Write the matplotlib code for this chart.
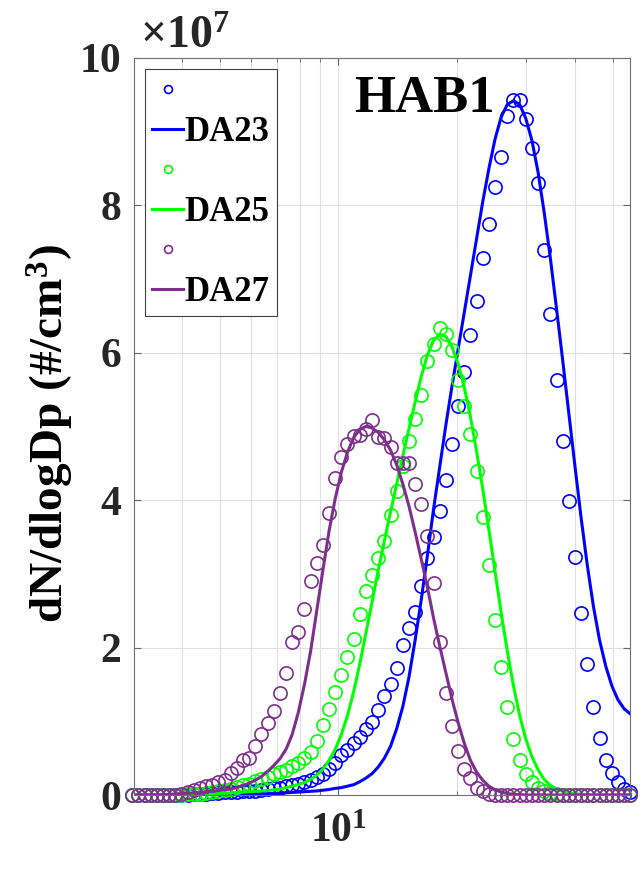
import numpy as np
import matplotlib
matplotlib.use("Agg")
import matplotlib.pyplot as plt
from matplotlib.ticker import FixedLocator, FixedFormatter, NullFormatter

plt.rcParams['font.family'] = ['Liberation Serif', 'DejaVu Serif']
plt.rcParams['font.weight'] = 'bold'
plt.rcParams['mathtext.fontset'] = 'custom'
plt.rcParams['mathtext.rm'] = 'Liberation Serif:bold'
plt.rcParams['mathtext.bf'] = 'Liberation Serif:bold'
plt.rcParams['mathtext.default'] = 'bf'

# SMPS size bins (nm), 64 channels per decade
dp = np.logspace(np.log10(2.99), np.log10(55.3), 82)

# dN/dlogDp in units of 1e7 #/cm3 (measured = circles, fit = lines)
da23_meas = [0, 0, 0, 0, 0, 0, 0, 0, 0, 0,
             0.01, 0.015, 0.02, 0.025, 0.03, 0.035, 0.04, 0.045, 0.05, 0.055,
             0.06, 0.07, 0.08, 0.09, 0.10, 0.12, 0.13, 0.15, 0.18, 0.21,
             0.25, 0.29, 0.35, 0.44, 0.54, 0.61, 0.70, 0.79, 0.89, 0.99,
             1.15, 1.34, 1.50, 1.72, 2.03, 2.27, 2.48, 2.83, 3.21, 3.50,
             3.85, 4.28, 4.76, 5.28, 5.74, 6.24, 6.70, 7.28, 7.75, 8.25,
             8.66, 9.21, 9.43, 9.43, 9.17, 8.78, 8.30, 7.39, 6.53, 5.63,
             4.81, 3.99, 3.23, 2.47, 1.78, 1.19, 0.78, 0.47, 0.30, 0.17,
             0.08, 0.04]
da23_fit = [0, 0, 0, 0, 0, 0, 0, 0, 0, 0,
            0, 0, 0.001, 0.002, 0.003, 0.004, 0.005, 0.006, 0.008, 0.01,
            0.012, 0.015, 0.018, 0.02, 0.025, 0.03, 0.035, 0.04, 0.045, 0.05,
            0.055, 0.065, 0.075, 0.09, 0.10, 0.12, 0.14, 0.18, 0.23, 0.29,
            0.38, 0.50, 0.66, 0.90, 1.20, 1.60, 2.10, 2.65, 3.25, 3.88,
            4.45, 5.02, 5.55, 6.05, 6.55, 7.05, 7.55, 8.05, 8.50, 8.90,
            9.20, 9.37, 9.42, 9.37, 9.18, 8.88, 8.45, 7.90, 7.28, 6.60,
            5.90, 5.18, 4.46, 3.76, 3.12, 2.56, 2.10, 1.75, 1.48, 1.29,
            1.17, 1.10]

da25_meas = [0, 0, 0, 0, 0, 0, 0, 0, 0, 0.01,
             0.015, 0.02, 0.03, 0.04, 0.05, 0.07, 0.08, 0.11, 0.13, 0.15,
             0.19, 0.22, 0.25, 0.28, 0.31, 0.34, 0.39, 0.44, 0.50, 0.59,
             0.73, 0.95, 1.17, 1.40, 1.63, 1.87, 2.12, 2.45, 2.77, 2.99,
             3.21, 3.45, 3.80, 4.13, 4.47, 4.81, 5.10, 5.43, 5.89, 6.12,
             6.33, 6.25, 6.04, 5.63, 5.28, 4.90, 4.40, 3.77, 3.12, 2.37,
             1.73, 1.20, 0.76, 0.48, 0.29, 0.17, 0.10, 0.05, 0.03, 0.01,
             0, 0, 0, 0, 0, 0, 0, 0, 0, 0,
             0, 0]
da25_fit = [0, 0, 0, 0, 0, 0, 0, 0, 0, 0,
            0.005, 0.01, 0.012, 0.015, 0.02, 0.025, 0.03, 0.035, 0.04, 0.045,
            0.05, 0.055, 0.06, 0.07, 0.08, 0.10, 0.12, 0.14, 0.17, 0.21,
            0.27, 0.35, 0.47, 0.62, 0.82, 1.08, 1.40, 1.78, 2.20, 2.62,
            3.05, 3.45, 3.84, 4.22, 4.60, 4.97, 5.33, 5.68, 5.97, 6.17,
            6.25, 6.22, 6.08, 5.85, 5.53, 5.13, 4.66, 4.15, 3.60, 3.03,
            2.47, 1.95, 1.48, 1.08, 0.76, 0.52, 0.34, 0.21, 0.13, 0.08,
            0.05, 0.03, 0.02, 0.01, 0.005, 0, 0, 0, 0, 0,
            0, 0]

da27_meas = [0, 0, 0, 0, 0, 0, 0, 0, 0.02, 0.04,
             0.07, 0.09, 0.12, 0.14, 0.17, 0.21, 0.30, 0.37, 0.47, 0.50,
             0.67, 0.83, 0.98, 1.14, 1.38, 1.66, 2.07, 2.21, 2.52, 2.90,
             3.15, 3.39, 3.83, 4.30, 4.59, 4.76, 4.87, 4.88, 4.96, 5.09,
             4.86, 4.85, 4.72, 4.51, 4.51, 4.51, 4.22, 3.95, 3.52, 2.87,
             2.08, 1.39, 0.93, 0.60, 0.35, 0.23, 0.10, 0.05, 0.02, 0,
             0, 0, 0, 0, 0, 0, 0, 0, 0, 0,
             0, 0, 0, 0, 0, 0, 0, 0, 0, 0,
             0, 0]
da27_fit = [0, 0, 0, 0, 0, 0.005, 0.01, 0.015, 0.02, 0.025,
            0.03, 0.035, 0.045, 0.05, 0.06, 0.07, 0.08, 0.10, 0.13, 0.16,
            0.20, 0.25, 0.32, 0.40, 0.49, 0.62, 0.82, 1.12, 1.50, 1.95,
            2.50, 3.05, 3.58, 4.02, 4.38, 4.65, 4.85, 4.96, 5.00, 4.98,
            4.92, 4.82, 4.68, 4.48, 4.22, 3.92, 3.57, 3.20, 2.82, 2.40,
            2.02, 1.66, 1.30, 0.98, 0.70, 0.47, 0.31, 0.20, 0.12, 0.07,
            0.04, 0.02, 0.01, 0.005, 0, 0, 0, 0, 0, 0,
            0, 0, 0, 0, 0, 0, 0, 0, 0, 0,
            0, 0]

labels = ['DA23', 'DA25', 'DA27']
colors = ['#0000ff', '#00ff00', '#7e2f8e']
measured = [da23_meas, da25_meas, da27_meas]
fitted = [da23_fit, da25_fit, da27_fit]

fig = plt.figure(figsize=(6.41, 8.86), dpi=100)
ax = fig.add_axes([134 / 641, 1 - 795 / 886, 496 / 641, 737 / 886])

handles = []
leg_labels = []
for lab, c, ym, yf in zip(labels, colors, measured, fitted):
    hm, = ax.plot(dp, ym, 'o', mfc='none', mec=c, ms=9.5, mew=1.2, clip_on=False)
    hl, = ax.plot(dp, yf, '-', color=c, lw=2.2)
    handles += [hm, hl]
    leg_labels += [' ', lab]

ax.set_xscale('log')
ax.set_xlim(3.02, 55.2)
ax.set_ylim(0, 10)

ax.xaxis.set_major_locator(FixedLocator([10]))
ax.xaxis.set_major_formatter(FixedFormatter([r'$\mathbf{10^{1}}$']))
ax.xaxis.set_minor_locator(FixedLocator([4, 5, 6, 7, 8, 9, 20, 30, 40, 50]))
ax.xaxis.set_minor_formatter(NullFormatter())
ax.set_yticks([0, 2, 4, 6, 8, 10])
ax.set_yticklabels(['0', '2', '4', '6', '8', '10'])

ax.tick_params(axis='both', which='both', direction='in', top=True, right=True,
               colors='#666666', labelcolor='#262626', labelsize=30)
ax.tick_params(axis='y', which='major', length=5, pad=9)
ax.tick_params(axis='x', which='major', length=5, pad=13)
ax.tick_params(axis='x', which='minor', length=3)

ax.grid(True, which='major', color='#e0e0e0', lw=0.8)
ax.grid(True, which='minor', axis='x', color='#e0e0e0', lw=0.8)
ax.set_axisbelow(True)
for s in ax.spines.values():
    s.set_color('#707070')
    s.set_linewidth(0.8)

ax.set_ylabel(r'dN/dlogDp (#/cm$^{3}$)', fontsize=34, fontweight='bold', va='bottom')
ax.yaxis.set_label_coords(-0.117, 0.49)

ax.text(0.012, 1.0, r'$\times\mathbf{10^{7}}$', transform=ax.transAxes,
        fontsize=33, ha='left', va='bottom', color='#262626')
ax.text(0.585, 0.944, 'HAB1', transform=ax.transAxes, fontsize=38,
        fontweight='bold', ha='center', va='center')

leg = ax.legend(handles, leg_labels, loc='upper left',
                bbox_to_anchor=(145 / 641, 1 - 69 / 886), bbox_transform=fig.transFigure,
                borderaxespad=0, prop={'size': 25, 'weight': 'bold'},
                handlelength=0.9, handletextpad=0.05, borderpad=0.2,
                labelspacing=0.2, markerscale=0.6, fancybox=False, framealpha=1)
leg.get_frame().set_edgecolor('#404040')
leg.get_frame().set_linewidth(0.8)

fig.savefig('out.png', dpi=100)
